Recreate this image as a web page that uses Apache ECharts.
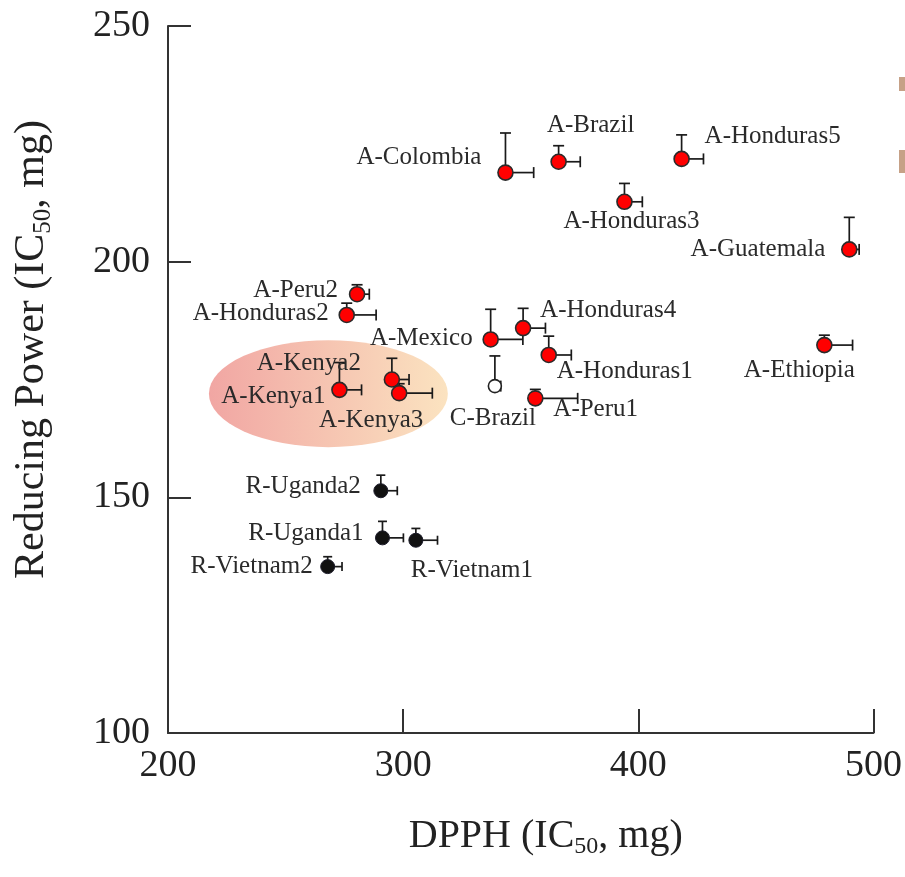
<!DOCTYPE html>
<html>
<head>
<meta charset="utf-8">
<script src="https://cdn.jsdelivr.net/npm/echarts@6/dist/echarts.min.js"></script>
<style>
  html, body { margin: 0; padding: 0; background: #fff; }
  #chart { width: 905px; height: 877px; }
</style>
</head>
<body>
<div id="chart"></div>
<script>
// 样品名、DPPH IC50、还原力 IC50 以及误差（只画向上/向右）
const names = ['A-Colombia', 'A-Brazil', 'A-Honduras5', 'A-Honduras3', 'A-Guatemala',
  'A-Ethiopia', 'A-Peru2', 'A-Honduras2', 'A-Honduras4', 'A-Mexico', 'A-Honduras1',
  'A-Kenya2', 'A-Kenya1', 'A-Kenya3', 'C-Brazil', 'A-Peru1',
  'R-Uganda2', 'R-Uganda1', 'R-Vietnam1', 'R-Vietnam2'];
const dpph = [343.5, 366.1, 418.4, 394.1, 489.7,
  479.1, 280.4, 276.0, 351.0, 337.2, 361.9,
  295.2, 272.9, 298.3, 339.0, 356.2,
  290.5, 291.2, 305.4, 267.9];
const reducing = [218.9, 221.2, 221.8, 212.7, 202.6,
  182.3, 193.1, 188.7, 185.9, 183.5, 180.2,
  175.0, 172.8, 172.1, 173.6, 171.0,
  151.4, 141.4, 140.9, 135.3];
const dpphErr = [12.0, 9.2, 9.3, 7.6, 4.2,
  12.0, 5.2, 12.5, 9.5, 13.7, 9.6,
  7.3, 9.4, 14.1, 2.5, 18.0,
  7.0, 8.9, 9.2, 6.1];
const reducingErr = [8.4, 3.4, 5.1, 3.9, 6.8,
  2.1, 2.0, 2.5, 4.2, 6.4, 4.0,
  4.5, 5.8, 2.0, 6.4, 1.9,
  3.3, 3.5, 2.5, 2.1];

const xTicks = [200, 300, 400, 500];
const yTicks = [100, 150, 200, 250];

// Kenya 组的高亮椭圆（数据坐标：中心x, 中心y, 半径x, 半径y）
const kenyaEllipse = [268.2, 172.0, 50.8, 11.35];

// 标签摆放：对齐方式 + 相对点中心的偏移
const labelPlace = {
  'A-Colombia': ['right', -24, -15],
  'A-Brazil': ['center', 32, -36],
  'A-Honduras5': ['left', 23, -22],
  'A-Honduras3': ['center', 7, 20],
  'A-Guatemala': ['right', -24, 0],
  'A-Ethiopia': ['center', -25, 25],
  'A-Peru2': ['right', -19, -4],
  'A-Honduras2': ['right', -18, -1],
  'A-Honduras4': ['left', 17, -18],
  'A-Mexico': ['right', -18, -1],
  'A-Honduras1': ['left', 8, 16],
  'A-Kenya2': ['right', -31, -16],
  'A-Kenya1': ['right', -14, 7],
  'A-Kenya3': ['center', -28, 27],
  'C-Brazil': ['center', -2, 32],
  'A-Peru1': ['left', 18, 11],
  'R-Uganda2': ['right', -20, -4],
  'R-Uganda1': ['right', -19, -4],
  'R-Vietnam1': ['left', -5, 30],
  'R-Vietnam2': ['right', -15, 0]
};

const SERIF = '"Liberation Serif", "DejaVu Serif", serif';
const INK = '#222';

function pointStyle(name) {
  if (name.startsWith('R-')) {
    return { size: 14, style: { color: '#111', borderColor: '#1c1c2a', borderWidth: 1, opacity: 1 } };
  }
  if (name.startsWith('C-')) {
    return { size: 13, style: { color: '#fff', borderColor: '#222', borderWidth: 1.6, opacity: 1 } };
  }
  return { size: 15, style: { color: '#ff0000', borderColor: '#2a2a2a', borderWidth: 1.6, opacity: 1 } };
}

const scatterData = names.map((n, i) => {
  const p = pointStyle(n);
  const place = labelPlace[n];
  return {
    name: n,
    value: [dpph[i], reducing[i]],
    symbolSize: p.size,
    itemStyle: p.style,
    label: { align: place[0], offset: [place[1], place[2]] }
  };
});

const errData = names.map((n, i) => [dpph[i], reducing[i], dpphErr[i], reducingErr[i]]);

function renderErr(params, api) {
  const x = api.value(0), y = api.value(1);
  const p0 = api.coord([x, y]);
  const pUp = api.coord([x, y + api.value(3)]);
  const pRight = api.coord([x + api.value(2), y]);
  const cap = names[params.dataIndex].startsWith('R-') ? 4.5 : 5.5;
  const st = { stroke: '#1a1a1a', lineWidth: 1.7 };
  return {
    type: 'group',
    children: [
      { type: 'line', shape: { x1: p0[0], y1: p0[1], x2: pUp[0], y2: pUp[1] }, style: st },
      { type: 'line', shape: { x1: pUp[0] - cap, y1: pUp[1], x2: pUp[0] + cap, y2: pUp[1] }, style: st },
      { type: 'line', shape: { x1: p0[0], y1: p0[1], x2: pRight[0], y2: pRight[1] }, style: st },
      { type: 'line', shape: { x1: pRight[0], y1: pRight[1] - cap, x2: pRight[0], y2: pRight[1] + cap }, style: st }
    ]
  };
}

function renderEllipse(params, api) {
  const c = api.coord([api.value(0), api.value(1)]);
  const s = api.size([api.value(2), api.value(3)]);
  return {
    type: 'circle',
    x: c[0],
    y: c[1],
    scaleY: s[1] / s[0],
    shape: { cx: 0, cy: 0, r: s[0] },
    style: {
      fill: new echarts.graphic.LinearGradient(0, 0, 1, 0, [
        { offset: 0, color: '#f1a6a3' },
        { offset: 1, color: '#fbe3c0' }
      ])
    }
  };
}

const chart = echarts.init(document.getElementById('chart'), null, { renderer: 'canvas' });

chart.setOption({
  animation: false,
  backgroundColor: '#fff',
  grid: { left: 168, right: 29, top: 26, bottom: 144 },
  xAxis: {
    type: 'value',
    min: xTicks[0],
    max: xTicks[xTicks.length - 1],
    interval: 100,
    name: '{n|DPPH (IC}{s|50}{n|, mg)}',
    nameLocation: 'middle',
    nameGap: 80,
    nameTextStyle: {
      padding: [0, 0, 0, 50],
      rich: {
        n: { fontFamily: SERIF, fontSize: 40, color: INK, lineHeight: 46 },
        s: { fontFamily: SERIF, fontSize: 24, color: INK, lineHeight: 20, verticalAlign: 'bottom' }
      }
    },
    axisLine: { lineStyle: { color: '#333', width: 2 } },
    axisTick: { inside: true, length: 24, lineStyle: { color: '#333', width: 2 } },
    axisLabel: { fontFamily: SERIF, fontSize: 38, color: INK, margin: 14 },
    splitLine: { show: false }
  },
  yAxis: {
    type: 'value',
    min: yTicks[0],
    max: yTicks[yTicks.length - 1],
    interval: 50,
    name: '{n|Reducing Power (IC}{s|50}{n|, mg)}',
    nameLocation: 'middle',
    nameGap: 112,
    nameTextStyle: {
      padding: [0, 0, 0, 60],
      rich: {
        n: { fontFamily: SERIF, fontSize: 42, color: INK, lineHeight: 48 },
        s: { fontFamily: SERIF, fontSize: 25, color: INK, lineHeight: 20, verticalAlign: 'bottom' }
      }
    },
    axisLine: { lineStyle: { color: '#333', width: 2 } },
    axisTick: { inside: true, length: 23, lineStyle: { color: '#333', width: 2 } },
    axisLabel: { fontFamily: SERIF, fontSize: 38, color: INK, margin: 18 },
    splitLine: { show: false }
  },
  series: [
    {
      type: 'custom',
      name: 'kenya',
      z: 0,
      silent: true,
      renderItem: renderEllipse,
      data: [kenyaEllipse]
    },
    {
      type: 'custom',
      name: 'err',
      z: 1,
      silent: true,
      renderItem: renderErr,
      data: errData
    },
    {
      type: 'scatter',
      z: 2,
      data: scatterData,
      label: {
        show: true,
        position: 'inside',
        formatter: '{b}',
        fontFamily: SERIF,
        fontSize: 25,
        color: '#2a2a2a'
      }
    }
  ],
  graphic: [
    { type: 'rect', shape: { x: 899, y: 77, width: 6, height: 14 }, style: { fill: '#c6a187' } },
    { type: 'rect', shape: { x: 899, y: 150, width: 6, height: 23 }, style: { fill: '#c6a187' } }
  ]
});
</script>
</body>
</html>
